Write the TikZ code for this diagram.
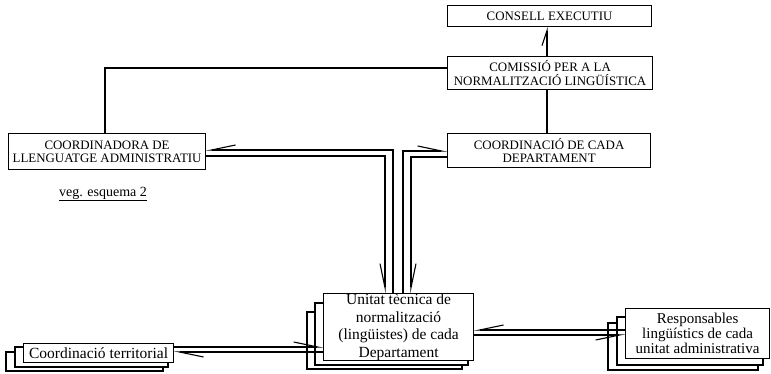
\documentclass[tikz,border=0pt]{standalone}
\usepackage{fontspec}
\setmainfont{Liberation Serif}
\usetikzlibrary{arrows.meta}
\begin{document}
\begin{tikzpicture}[x=1pt,y=-1pt,
  box/.style={draw, line width=1.2pt, fill=white, inner sep=0pt, anchor=north west, align=center},
  caps/.style={font=\fontsize{12.9}{13.5}\selectfont},
  lowtext/.style={font=\fontsize{15.5}{17.5}\selectfont},
  layer/.style={draw, line width=1.2pt, fill=white},
  conn/.style={line width=1.1pt},
  barbL/.style={conn, -{Straight Barb[harpoon, length=24pt, width=10pt, line width=1.1pt]}},
  barbR/.style={conn, -{Straight Barb[harpoon, swap, length=24pt, width=10pt, line width=1.1pt]}},
  barbS/.style={conn, -{Straight Barb[harpoon, length=15pt, width=10pt, line width=1.1pt]}},
]
\useasboundingbox (0,0) rectangle (771,374);

% top boxes
\node[box, caps, minimum width=204pt, minimum height=21pt] (consell) at (447,5) {CONSELL EXECUTIU};
\node[box, caps, minimum width=205pt, minimum height=33pt] (comissio) at (447,56) {COMISSIÓ PER A LA\\NORMALITZACIÓ LINGÜÍSTICA};
\node[box, caps, minimum width=197pt, minimum height=36pt] (coordadm) at (8,133) {COORDINADORA DE\\LLENGUATGE ADMINISTRATIU};
\node[box, caps, minimum width=203pt, minimum height=34pt] (coordcada) at (447,133) {COORDINACIÓ DE CADA\\DEPARTAMENT};

\node[font=\fontsize{14}{16}\selectfont, inner sep=1pt] (veg) at (103,194) {\underline{veg. esquema 2}};

% stacked: Unitat
\draw[layer] (307,312) rectangle (462,369);
\draw[layer] (315,303) rectangle (468,365);
\node[box, lowtext, minimum width=150pt, minimum height=67pt] (unitat) at (323,293) {Unitat tècnica de\\normalització\\(lingüistes) de cada\\Departament};

% stacked: territorial
\draw[layer] (6,352) rectangle (163,371);
\draw[layer] (15,347) rectangle (168,367);
\node[box, lowtext, minimum width=150pt, minimum height=19pt] (territorial) at (23,343) {Coordinació territorial};

% stacked: responsables
\draw[layer] (608,323) rectangle (758,370);
\draw[layer] (617,317) rectangle (763,365);
\node[box, font=\fontsize{15}{15}\selectfont, minimum width=144pt, minimum height=50pt] (resp) at (625,308) {Responsables\\lingüístics de cada\\unitat administrativa};

% plain links
\draw[conn] (comissio.west |- 0,68) -| (coordadm.north -| 105,0);
\draw[conn] (comissio.south -| 547,0) -- (coordcada.north -| 547,0);
\draw[barbS] (comissio.north -| 547,0) -- (consell.south -| 547,0);

% double link: coordinadora <-> unitat
\draw[barbR] (unitat.north -| 393,0) |- (coordadm.east |- 0,150);
\draw[barbR] (coordadm.east |- 0,156) -| (unitat.north -| 385,0);

% double link: coordinacio de cada <-> unitat
\draw[barbL] (unitat.north -| 403,0) |- (coordcada.west |- 0,151);
\draw[barbL] (coordcada.west |- 0,157) -| (unitat.north -| 411,0);

% territorial <-> unitat
\draw[barbL] (territorial.east |- 0,347) -- (unitat.west |- 0,347);
\draw[barbL] (unitat.west |- 0,352) -- (territorial.east |- 0,352);

% responsables <-> unitat
\draw[barbR] (resp.west |- 0,330) -- (unitat.east |- 0,330);
\draw[barbR] (unitat.east |- 0,335) -- (resp.west |- 0,335);
\end{tikzpicture}
\end{document}
